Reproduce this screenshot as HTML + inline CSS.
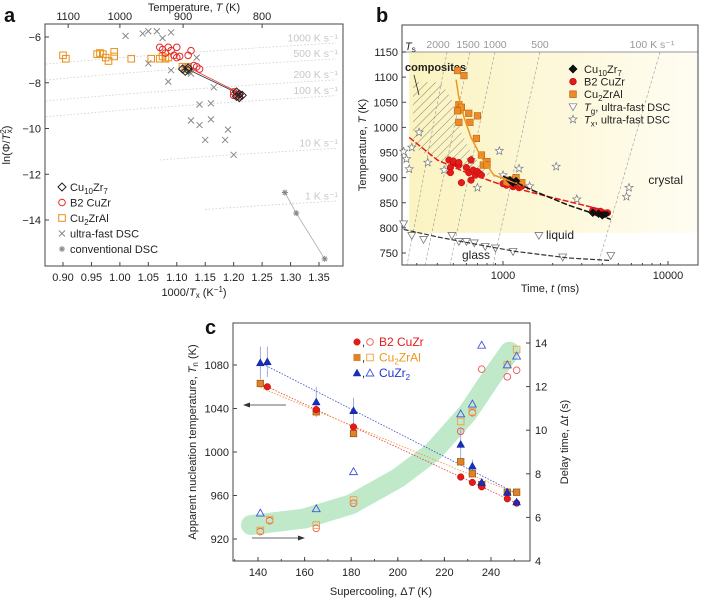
<!DOCTYPE html>
<html><head><meta charset="utf-8">
<style>
body{margin:0;background:#fff;}
svg{display:block;font-family:"Liberation Sans",sans-serif;}
.ax{stroke:#444;stroke-width:1;fill:none;}
</style></head><body>
<svg id="s" width="701" height="599" viewBox="0 0 701 599" xmlns="http://www.w3.org/2000/svg">
<defs>
<linearGradient id="yg" x1="0" y1="0" x2="1" y2="0"><stop offset="0" stop-color="#fbf3c0"/><stop offset="1" stop-color="#fffdf3"/></linearGradient>
<pattern id="hatch" patternUnits="userSpaceOnUse" width="6" height="6" patternTransform="rotate(45)"><line x1="0" y1="0" x2="0" y2="6" stroke="#555" stroke-width="0.7"/></pattern>
</defs>
<g id="pa"></g>
<g id="pb"></g>
<g id="pc"></g>
</svg>
<script>
// ---------- Panel a data ----------
const aOrangeX=[0.90,0.905,0.96,0.965,0.97,0.975,0.98,0.99,0.99,1.02,1.055,1.07,1.075,1.08,1.085,1.11,1.115,1.12];
const aOrangeY=[-6.8,-6.95,-6.75,-6.7,-6.75,-6.9,-7.05,-6.65,-6.85,-6.95,-6.95,-6.95,-6.85,-6.95,-6.9,-7.3,-7.4,-7.3];
const aRedX=[1.07,1.075,1.08,1.085,1.09,1.095,1.1,1.1,1.105,1.12,1.125,1.13,1.135,1.14,1.2,1.205,1.21,1.2,1.21];
const aRedY=[-6.45,-6.55,-6.7,-6.45,-6.6,-6.8,-6.45,-6.9,-6.85,-6.8,-6.6,-7.25,-7.3,-7.4,-8.4,-8.5,-8.6,-8.55,-8.5];
const aDiaX=[1.11,1.115,1.12,1.12,1.205,1.21,1.215,1.205,1.21];
const aDiaY=[-7.4,-7.5,-7.35,-7.45,-8.4,-8.5,-8.55,-8.6,-8.65];
const aUfX=[1.01,1.04,1.05,1.065,1.075,1.09,1.05,1.09,1.085,1.135,1.125,1.165,1.14,1.16,1.125,1.14,1.16,1.15,1.185,1.19,1.2];
const aUfY=[-5.95,-5.85,-5.75,-5.75,-6.05,-5.8,-7.15,-7.45,-7.95,-6.9,-7.6,-8.2,-8.95,-8.9,-9.65,-9.85,-9.6,-10.5,-10.5,-10.05,-11.15];
const aConvX=[1.29,1.31,1.36];
const aConvY=[-12.8,-13.7,-15.7];
const aRates=[1000,500,200,100,10,1];
const aRateLabels=["1000 K s⁻¹","500 K s⁻¹","200 K s⁻¹","100 K s⁻¹","10 K s⁻¹","1 K s⁻¹"];
const aXTicks=[0.90,0.95,1.00,1.05,1.10,1.15,1.20,1.25,1.30,1.35];
const aYTicks=[-6,-8,-10,-12,-14];
const aTopTicks=[1100,1000,900,800];
// ---------- Panel b data ----------
const bRedT=[470,480,500,520,540,560,600,620,640,660,680,700,720,740,480,500,540,640,1000,1050,1100,1150,1200,1250,1300,3500,3700,3900,4100,4300];
const bRedK=[935,920,930,928,925,890,920,910,895,915,905,912,908,905,910,933,930,935,888,885,890,882,886,880,883,835,830,833,828,830];
const bOrT=[530,580,540,550,560,530,540,620,630,700,690,740,760,800,800,1100,1200,1300,1050];
const bOrK=[1113,1103,1045,1035,1040,1033,1010,1028,1010,1023,978,945,925,932,925,895,900,890,890];
const bDiT=[1100,1150,1200,3500,3800,4000,4200];
const bDiK=[895,890,893,830,828,825,828];
const bTgT=[250,280,330,490,540,600,670,780,900,1150,1650,2300,4500];
const bTgK=[808,785,777,785,773,773,770,763,760,753,785,742,745];
const bTxT=[250,260,270,280,310,350,440,640,700,950,1000,1250,1450,2100,2800,5600,5800];
const bTxK=[952,937,917,960,990,930,915,935,880,953,905,918,883,922,857,862,880];
const bRedCurveT=[270,400,600,1000,2000,4500];
const bRedCurveK=[980,935,910,885,860,832];
const bOrCurveT=[520,540,580,640,740,880,1300];
const bOrCurveK=[1095,1060,1020,980,940,905,885];
const bBlkCurveT=[1000,1500,2500,4500];
const bBlkCurveK=[903,875,845,817];
const bGlassT=[250,400,700,1200,2500,4500];
const bGlassK=[797,782,767,753,740,735];
const bRateLabels=["2000","1500","1000","500","100 K s⁻¹"];
const bRateLabelT=[404,614,894,1676,8000];
const bRateTopT=[458,631,894,1676,8950];
const bRateBotT=[262,337,477,870,3760];
const bXTicks=[1000,10000];
const bYTicks=[750,800,850,900,950,1000,1050,1100,1150];
// ---------- Panel c data ----------
const cRedX=[144,165,181,227,232,236,247,251];
const cRedY=[1060,1039,1023,977,972,968,957,953];
const cOrX=[141,165,181,227,232,236,247,251];
const cOrY=[1063,1037,1017,991,980,970,963,963];
const cBlX=[141,144,165,181,227,232,236,247,251];
const cBlY=[1082,1083,1046,1038,1007,987,972,963,954];
const cBlErr=[15,14,14,12,14,6,4,3,3];
const cRedDX=[141,145,165,181,227,232,236,247,251];
const cRedDY=[5.35,5.85,5.5,6.65,9.95,10.8,12.8,12.45,12.75];
const cOrDX=[141,145,165,181,227,232,247,251];
const cOrDY=[5.4,5.9,5.65,6.8,10.4,10.85,13.0,13.7];
const cBlDX=[141,165,181,227,232,236,247,251];
const cBlDY=[6.2,6.4,8.1,10.75,11.2,13.9,13.0,13.4];
const cBandX=[137,160,180,200,215,230,240,248];
const cBandY=[5.65,5.95,6.6,7.8,9.0,10.8,12.4,13.6];
const cXTicks=[140,160,180,200,220,240];
const cYTicks=[920,960,1000,1040,1080];
const cY2Ticks=[4,6,8,10,12,14];

const NS="http://www.w3.org/2000/svg";
function mk(parent,tag,attrs,name,txt){const e=document.createElementNS(NS,tag);for(const k in attrs)e.setAttribute(k,attrs[k]);


if(txt!==undefined)e.textContent=txt;parent.appendChild(e);return e;}
function lin(d0,d1,p0,p1){return v=>p0+(v-d0)/(d1-d0)*(p1-p0);}
function txt(g,x,y,s,name,opt){opt=opt||{};return mk(g,'text',{x:x,y:y,'font-size':opt.fs||11,'text-anchor':opt.a||'middle',fill:opt.f||'#222','font-weight':opt.w||'normal',transform:opt.tr||''},name,s);}
function pts(xs,ys,X,Y){return xs.map((v,i)=>X(v).toFixed(1)+','+Y(ys[i]).toFixed(1)).join(' ');}
function marker(g,type,x,y,st,name){
 const r=3.3;
 if(type==='circle')return mk(g,'circle',{cx:x,cy:y,r:r,...st},name);
 if(type==='square')return mk(g,'rect',{x:x-r,y:y-r,width:2*r,height:2*r,...st},name);
 if(type==='diamond')return mk(g,'polygon',{points:`${x},${y-r-0.7} ${x+r+0.7},${y} ${x},${y+r+0.7} ${x-r-0.7},${y}`,...st},name);
 if(type==='tri')return mk(g,'polygon',{points:`${x},${y-r-0.6} ${x+r+0.6},${y+r-0.3} ${x-r-0.6},${y+r-0.3}`,...st},name);
 if(type==='tridown')return mk(g,'polygon',{points:`${x},${y+r+0.6} ${x+r+0.6},${y-r+0.3} ${x-r-0.6},${y-r+0.3}`,...st},name);
 if(type==='cross')return mk(g,'path',{d:`M${x-3},${y-3}L${x+3},${y+3}M${x-3},${y+3}L${x+3},${y-3}`,...st},name);
 if(type==='ast')return mk(g,'path',{d:`M${x-3},${y}L${x+3},${y}M${x},${y-3}L${x},${y+3}M${x-2.2},${y-2.2}L${x+2.2},${y+2.2}M${x-2.2},${y+2.2}L${x+2.2},${y-2.2}`,...st},name);
 if(type==='star'){let p=[];for(let i=0;i<10;i++){const a=-Math.PI/2+i*Math.PI/5,rr=i%2?1.8:4.2;p.push((x+rr*Math.cos(a)).toFixed(1)+','+(y+rr*Math.sin(a)).toFixed(1));}return mk(g,'polygon',{points:p.join(' '),...st},name);}
}
function scatter(g,xs,ys,X,Y,type,st,name){xs.forEach((v,i)=>marker(g,type,X(v),Y(ys[i]),st,name));}

// ================= Panel A =================
(function(){
const g=document.getElementById('pa');
const L=45,R=343,T=24,B=266;
const X=lin(0.90,1.35,63,319), Y=lin(-6,-14,37,220);
txt(g,4,22,'a','panel-label-a',{fs:20,a:'start',w:'bold',f:'#111'});
aRates.forEach((r,i)=>{
 const xs=[],ys=[];
 for(let x=0.87;x<=1.39;x+=0.01){xs.push(x);ys.push(Math.log(r)-2*Math.log(1000/x));}
 const start=i<4?0:(i==4?20:28);
 mk(g,'polyline',{points:pts(xs.slice(start),ys.slice(start),X,Y),fill:'none',stroke:'#ccc','stroke-width':0.8,'stroke-dasharray':'1.5,2'},'rate-guide-line');
 txt(g,338,Y(Math.log(r)-2*Math.log(1000/1.37))-2,aRateLabels[i],'rate-label',{a:'end',f:'#c8c8c8',fs:10.5});
});
mk(g,'rect',{x:L,y:T,width:R-L,height:B-T,class:'ax'},'plot-frame-a');
aXTicks.forEach(v=>{mk(g,'line',{x1:X(v),x2:X(v),y1:B,y2:B-4,stroke:'#444'},'x-tick');txt(g,X(v),B+15,v.toFixed(2),'x-tick-label');});
aYTicks.forEach(v=>{mk(g,'line',{x1:L,x2:L+4,y1:Y(v),y2:Y(v),stroke:'#444'},'y-tick');txt(g,L-4,Y(v)+4,'−'+Math.abs(v),'y-tick-label',{a:'end'});});
aTopTicks.forEach(v=>{const x=X(1000/v);mk(g,'line',{x1:x,x2:x,y1:T,y2:T+4,stroke:'#444'},'top-tick');txt(g,x,T-4,String(v),'top-tick-label');});
txt(g,194,11,'','top-axis-title',{fs:11}).innerHTML='Temperature, <tspan font-style="italic">T</tspan> (K)';
txt(g,194,296,'','x-axis-title-a').innerHTML='1000/<tspan font-style="italic">T</tspan><tspan font-size="8" dy="2">x</tspan><tspan dy="-2"> (K</tspan><tspan font-size="8" dy="-4">−1</tspan><tspan dy="4">)</tspan>';
txt(g,0,0,'','y-axis-title-a',{tr:'translate(10,145) rotate(-90)'}).innerHTML='ln(Φ/<tspan font-style="italic">T</tspan><tspan font-size="8" dy="-4">2</tspan><tspan font-size="8" dx="-4" dy="6">x</tspan><tspan dy="-2">)</tspan>';
mk(g,'line',{x1:X(1.11),y1:Y(-7.3),x2:X(1.215),y2:Y(-8.55),stroke:'#333','stroke-width':0.8},'fit-line-cu10zr7');
mk(g,'line',{x1:X(1.11),y1:Y(-7.2),x2:X(1.21),y2:Y(-8.45),stroke:'#e33','stroke-width':0.8},'fit-line-b2');
mk(g,'polyline',{points:pts(aConvX,aConvY,X,Y),fill:'none',stroke:'#aaa','stroke-width':0.8},'conv-dsc-line');
scatter(g,aUfX,aUfY,X,Y,'cross',{stroke:'#888','stroke-width':1,fill:'none'},'ultrafast-dsc-point');
scatter(g,aOrangeX,aOrangeY,X,Y,'square',{stroke:'#e8901a','stroke-width':1,fill:'none'},'cu2zral-point');
scatter(g,aRedX,aRedY,X,Y,'circle',{stroke:'#e52a2a','stroke-width':1,fill:'none'},'b2-cuzr-point');
scatter(g,aDiaX,aDiaY,X,Y,'diamond',{stroke:'#222','stroke-width':1,fill:'none'},'cu10zr7-point');
scatter(g,aConvX,aConvY,X,Y,'ast',{stroke:'#888','stroke-width':1,fill:'none'},'conv-dsc-point');
const lg=mk(g,'g',{},'legend-a');
const items=[['diamond',{stroke:'#222',fill:'none'},'Cu<tspan font-size="8" dy="3">10</tspan><tspan dy="-3">Zr</tspan><tspan font-size="8" dy="3">7</tspan>'],
['circle',{stroke:'#e52a2a',fill:'none'},'B2 CuZr'],['square',{stroke:'#e8901a',fill:'none'},'Cu<tspan font-size="8" dy="3">2</tspan><tspan dy="-3">ZrAl</tspan>'],
['cross',{stroke:'#888',fill:'none'},'ultra-fast DSC'],['ast',{stroke:'#888',fill:'none'},'conventional DSC']];
items.forEach((it,i)=>{const y=187+i*15.5;marker(lg,it[0],62,y,{...it[1],'stroke-width':1},'legend-marker');txt(lg,70,y+4,'','legend-entry',{a:'start'}).innerHTML=it[2];});
})();

// ================= Panel B =================
(function(){
const g=document.getElementById('pb');
const L=402,R=698,T=25,B=265;
const X=v=>503+(Math.log10(v)-3)*165, Y=lin(1150,750,52,253);
txt(g,376,22,'b','panel-label-b',{fs:20,a:'start',w:'bold',f:'#111'});
mk(g,'rect',{x:X(270),y:Y(1150),width:R-X(270),height:Y(790)-Y(1150),fill:'url(#yg)'},'crystal-region');
mk(g,'polygon',{points:[[285,1090],[420,1090],[500,1050],[560,990],[640,950],[780,915],[1000,895],[800,905],[600,915],[400,935],[285,960]].map(p=>X(p[0])+','+Y(p[1])).join(' '),fill:'url(#hatch)'},'composites-hatch');
mk(g,'line',{x1:L,x2:R,y1:Y(1150),y2:Y(1150),stroke:'#aaa','stroke-width':1.2},'ts-line');
bRateLabels.forEach((s,i)=>{
 mk(g,'line',{x1:X(bRateTopT[i]),y1:Y(1150),x2:X(bRateBotT[i]),y2:B,stroke:'#999','stroke-width':0.6,'stroke-dasharray':'3,2'},'rate-line');
 txt(g,X(bRateLabelT[i]),Y(1150)-4,s,'rate-label-b',{f:'#999',fs:10.5});
});
mk(g,'rect',{x:L,y:T,width:R-L,height:B-T,class:'ax'},'plot-frame-b');
for(let d=2;d<=4;d++)for(let m=1;m<10;m++){const v=m*Math.pow(10,d);const x=X(v);if(x<L||x>R)continue;mk(g,'line',{x1:x,x2:x,y1:B,y2:B-(m==1?4:2),stroke:'#444'},'x-tick');}
bXTicks.forEach(v=>txt(g,X(v),B+14,String(v),'x-tick-label'));
bYTicks.forEach(v=>{mk(g,'line',{x1:L,x2:L+4,y1:Y(v),y2:Y(v),stroke:'#444'},'y-tick');txt(g,L-4,Y(v)+4,String(v),'y-tick-label',{a:'end'});});
txt(g,550,292,'','x-axis-title-b').innerHTML='Time, <tspan font-style="italic">t</tspan> (ms)';
txt(g,0,0,'','y-axis-title-b',{tr:'translate(366,145) rotate(-90)'}).innerHTML='Temperature, <tspan font-style="italic">T</tspan> (K)';
txt(g,405,50,'','ts-label',{a:'start'}).innerHTML='<tspan font-style="italic">T</tspan><tspan font-size="8" dy="2">s</tspan>';
txt(g,405,71,'composites','composites-label',{a:'start',w:'bold'});
mk(g,'line',{x1:414,y1:75,x2:419,y2:95,stroke:'#222','stroke-width':0.8},'composites-pointer');
txt(g,683,184,'crystal','crystal-label',{a:'end',fs:12});
txt(g,560,239,'liquid','liquid-label',{a:'middle',fs:12});
txt(g,476,259,'glass','glass-label',{a:'middle',fs:12});
function curve(xs,ys,st,name){mk(g,'polyline',{points:xs.map((v,i)=>X(v).toFixed(1)+','+Y(ys[i]).toFixed(1)).join(' '),fill:'none',...st},name);}
scatter(g,bTxT,bTxK,X,Y,'star',{stroke:'#777','stroke-width':0.7,fill:'#fff'},'tx-star');
scatter(g,bTgT,bTgK,X,Y,'tridown',{stroke:'#777','stroke-width':0.8,fill:'#fff'},'tg-triangle');
curve(bGlassT,bGlassK,{stroke:'#333','stroke-width':1.2,'stroke-dasharray':'5,2'},'glass-curve');
scatter(g,bRedT,bRedK,X,Y,'circle',{stroke:'#b00','stroke-width':0.5,fill:'#e31b1b'},'b2-cuzr-point');
scatter(g,bOrT,bOrK,X,Y,'square',{stroke:'#b05a00','stroke-width':0.5,fill:'#ec8a2c'},'cu2zral-point');
scatter(g,bDiT,bDiK,X,Y,'diamond',{stroke:'#000','stroke-width':0.5,fill:'#111'},'cu10zr7-point');
curve(bRedCurveT,bRedCurveK,{stroke:'#e31b1b','stroke-width':1.5,'stroke-dasharray':'6,2'},'b2-curve');
curve(bOrCurveT,bOrCurveK,{stroke:'#f0961e','stroke-width':1.5},'cu2zral-curve');
curve(bBlkCurveT,bBlkCurveK,{stroke:'#111','stroke-width':1.5,'stroke-dasharray':'6,2'},'cu10zr7-curve');
const lg=mk(g,'g',{},'legend-b');
const items=[['diamond',{fill:'#111',stroke:'#000'},'Cu<tspan font-size="8" dy="3">10</tspan><tspan dy="-3">Zr</tspan><tspan font-size="8" dy="3">7</tspan>'],
['circle',{fill:'#e31b1b',stroke:'#b00'},'B2 CuZr'],['square',{fill:'#ec8a2c',stroke:'#b05a00'},'Cu<tspan font-size="8" dy="3">2</tspan><tspan dy="-3">ZrAl</tspan>'],
['tridown',{fill:'#fff',stroke:'#777'},'<tspan font-style="italic">T</tspan><tspan font-size="8" dy="3">g</tspan><tspan dy="-3">, ultra-fast DSC</tspan>'],
['star',{fill:'#fff',stroke:'#777'},'<tspan font-style="italic">T</tspan><tspan font-size="8" dy="3">x</tspan><tspan dy="-3">, ultra-fast DSC</tspan>']];
items.forEach((it,i)=>{const y=69+i*12.6;marker(lg,it[0],573,y,{...it[1],'stroke-width':0.7},'legend-marker');txt(lg,584,y+4,'','legend-entry',{a:'start'}).innerHTML=it[2];});
})();

// ================= Panel C =================
(function(){
const g=document.getElementById('pc');
const L=233,R=530,T=323,B=561;
const X=lin(140,240,258,491), Y=lin(1080,920,365,539), Y2=lin(14,4,343,561);
txt(g,205,334,'c','panel-label-c',{fs:20,a:'start',w:'bold',f:'#111'});
mk(g,'polyline',{points:pts(cBandX,cBandY,X,Y2),fill:'none',stroke:'#bfe9c8','stroke-width':20,'stroke-linecap':'round','stroke-linejoin':'round'},'delay-time-band');
mk(g,'rect',{x:L,y:T,width:R-L,height:B-T,class:'ax'},'plot-frame-c');
cXTicks.forEach(v=>{mk(g,'line',{x1:X(v),x2:X(v),y1:B,y2:B-4,stroke:'#444'},'x-tick');txt(g,X(v),B+15,String(v),'x-tick-label');});
for(let v=130;v<=250;v+=10){mk(g,'line',{x1:X(v),x2:X(v),y1:B,y2:B-2,stroke:'#444'},'x-minor-tick');}
cYTicks.forEach(v=>{mk(g,'line',{x1:L,x2:L+4,y1:Y(v),y2:Y(v),stroke:'#444'},'y-tick');txt(g,L-4,Y(v)+4,String(v),'y-tick-label',{a:'end'});});
cY2Ticks.forEach(v=>{mk(g,'line',{x1:R,x2:R-4,y1:Y2(v),y2:Y2(v),stroke:'#444'},'y2-tick');txt(g,R+5,Y2(v)+4,String(v),'y2-tick-label',{a:'start'});});
txt(g,381,595,'','x-axis-title-c').innerHTML='Supercooling, Δ<tspan font-style="italic">T</tspan>  (K)';
txt(g,0,0,'','y-axis-title-c',{tr:'translate(196,442) rotate(-90)'}).innerHTML='Apparent nucleation temperature, <tspan font-style="italic">T</tspan><tspan font-size="8" dy="2">n</tspan><tspan dy="-2"> (K)</tspan>';
txt(g,0,0,'','y2-axis-title-c',{tr:'translate(568,442) rotate(-90)'}).innerHTML='Delay time, Δ<tspan font-style="italic">t</tspan> (s)';
mk(g,'line',{x1:286,y1:405,x2:247,y2:405,stroke:'#333','stroke-width':0.8},'left-axis-arrow');
mk(g,'polygon',{points:'243,405 250,402.5 250,407.5',fill:'#333'},'left-arrowhead');
mk(g,'line',{x1:252,y1:538,x2:300,y2:538,stroke:'#333','stroke-width':0.8},'right-axis-arrow');
mk(g,'polygon',{points:'305,538 298,535.5 298,540.5',fill:'#333'},'right-arrowhead');
function fit(xs,ys,col,name){const n=xs.length;let sx=0,sy=0,sxx=0,sxy=0;xs.forEach((x,i)=>{sx+=x;sy+=ys[i];sxx+=x*x;sxy+=x*ys[i];});const b=(n*sxy-sx*sy)/(n*sxx-sx*sx),a=(sy-b*sx)/n;const x0=xs[0],x1=xs[n-1];
mk(g,'line',{x1:X(x0),y1:Y(a+b*x0),x2:X(x1),y2:Y(a+b*x1),stroke:col,'stroke-width':0.8,'stroke-dasharray':'1.5,1.5'},name);}
fit(cRedX,cRedY,'#e33','fit-line-b2');fit(cOrX,cOrY,'#f0961e','fit-line-cu2zral');fit(cBlX,cBlY,'#3348cc','fit-line-cuzr2');
cBlX.forEach((x,i)=>mk(g,'line',{x1:X(x),x2:X(x),y1:Y(cBlY[i]+cBlErr[i]),y2:Y(cBlY[i]-cBlErr[i]),stroke:'#8899dd','stroke-width':0.8},'error-bar'));
scatter(g,cRedDX,cRedDY,X,Y2,'circle',{stroke:'#e55','stroke-width':0.9,fill:'none'},'b2-delay-point');
scatter(g,cOrDX,cOrDY,X,Y2,'square',{stroke:'#f0a040','stroke-width':0.9,fill:'none'},'cu2zral-delay-point');
scatter(g,cBlDX,cBlDY,X,Y2,'tri',{stroke:'#4455dd','stroke-width':0.9,fill:'none'},'cuzr2-delay-point');
scatter(g,cOrX,cOrY,X,Y,'square',{stroke:'#8a4a00','stroke-width':0.6,fill:'#e0822a'},'cu2zral-tn-point');
scatter(g,cRedX,cRedY,X,Y,'circle',{stroke:'#b00','stroke-width':0.5,fill:'#e31b1b'},'b2-tn-point');
scatter(g,cBlX,cBlY,X,Y,'tri',{stroke:'#001a99','stroke-width':0.5,fill:'#1a2fb8'},'cuzr2-tn-point');
const lg=mk(g,'g',{},'legend-c');
const items=[['circle','#e31b1b','#e55','B2 CuZr','#e31b1b'],['square','#e0822a','#f0a040','Cu<tspan font-size="8" dy="3">2</tspan><tspan dy="-3">ZrAl</tspan>','#f0961e'],['tri','#1a2fb8','#4455dd','CuZr<tspan font-size="8" dy="3">2</tspan>','#2233cc']];
items.forEach((it,i)=>{const y=342+i*15.5;marker(lg,it[0],357,y,{fill:it[1],stroke:it[1],'stroke-width':0.5},'legend-marker-filled');txt(lg,362,y+4,',','legend-comma',{a:'start'});marker(lg,it[0],370,y,{fill:'none',stroke:it[2],'stroke-width':0.9},'legend-marker-open');txt(lg,379,y+4,'','legend-entry',{a:'start',f:it[4],fs:12}).innerHTML=it[3];});
})();
</script>
</body></html>
